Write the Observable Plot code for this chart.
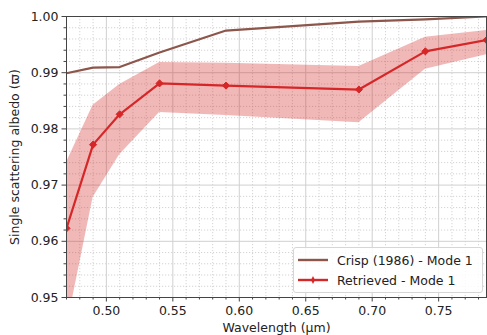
<!DOCTYPE html>
<html>
<head>
<meta charset="utf-8">
<script src="https://cdn.jsdelivr.net/npm/d3@7"></script>
<script src="https://cdn.jsdelivr.net/npm/@observablehq/plot@0.6"></script>
<style>
  body { margin: 0; background: #fff; font-family: "DejaVu Sans", sans-serif; }
  #wrap { position: relative; width: 487px; height: 335px; }
  .legend { position: absolute; left: 293px; top: 247px; width: 190px; height: 46px;
    border: 1px solid #d6d6d6; border-radius: 3px; background: rgba(255,255,255,0.85);
    font-size: 12.5px; color: #222; box-sizing: border-box; }
  .row { position: absolute; left: 4px; height: 18px; display: flex; align-items: center; }
  .row svg { margin-right: 9px; }
</style>
</head>
<body>
<div id="wrap"></div>
<script>
const wavelength = [0.47, 0.49, 0.51, 0.54, 0.59, 0.69, 0.74, 0.786];
const crisp =      [0.9899, 0.9909, 0.9910, 0.9936, 0.9975, 0.9991, 0.9995, 1.0000];
const retrieved =  [0.9623, 0.9772, 0.9826, 0.9881, 0.9877, 0.9870, 0.9938, 0.9958];
const upper =      [0.9740, 0.9842, 0.9879, 0.9918, 0.9917, 0.9911, 0.9963, 0.9975];
const lower =      [0.9445, 0.9678, 0.9754, 0.9829, 0.9824, 0.9811, 0.9906, 0.9932];
const xTicks = [0.50, 0.55, 0.60, 0.65, 0.70, 0.75];
const yTicks = [0.95, 0.96, 0.97, 0.98, 0.99, 1.00];
const xDomain = [0.47, 0.786];
const yDomain = [0.95, 1.00];

const data = wavelength.map((w, i) => ({w, crisp: crisp[i], ret: retrieved[i], lo: lower[i], hi: upper[i]}));
const xMinor = d3.range(0.47, 0.7861, 0.01).map(v => +v.toFixed(3)).filter(v => !xTicks.some(t => Math.abs(t - v) < 1e-6));
const yMinor = d3.range(0.95, 1.0001, 0.002).map(v => +v.toFixed(4)).filter(v => !yTicks.some(t => Math.abs(t - v) < 1e-6));

const red = "#d62728", brown = "#8c564b";
const FS = 12.5;

const chart = Plot.plot({
  width: 487, height: 335,
  marginLeft: 66, marginRight: 1, marginTop: 16, marginBottom: 38,
  style: {fontFamily: "DejaVu Sans, sans-serif", fontSize: "12.5px", color: "#222", background: "#fff"},
  x: {domain: xDomain},
  y: {domain: yDomain},
  marks: [
    Plot.ruleX(xMinor, {stroke: "#c8c8c8", strokeDasharray: "1.2,1.8", strokeWidth: 0.8}),
    Plot.ruleY(yMinor, {stroke: "#c8c8c8", strokeDasharray: "1.2,1.8", strokeWidth: 0.8}),
    Plot.ruleX(xTicks, {stroke: "#d0d0d0", strokeWidth: 1}),
    Plot.ruleY(yTicks, {stroke: "#d0d0d0", strokeWidth: 1}),
    Plot.areaY(data, {x: "w", y1: "lo", y2: "hi", fill: red, fillOpacity: 0.33, clip: true}),
    Plot.line(data, {x: "w", y: "crisp", stroke: brown, strokeWidth: 2.2, clip: true}),
    Plot.line(data, {x: "w", y: "ret", stroke: red, strokeWidth: 2.2, clip: true}),
    Plot.dot(data, {x: "w", y: "ret", symbol: "diamond2", r: 3.2, fill: red, stroke: red, strokeWidth: 1, clip: true}),
    Plot.frame({stroke: "#444", strokeWidth: 1}),
    Plot.axisX(xMinor, {tickSize: 2.5, text: null, stroke: "#444", label: null}),
    Plot.axisY(yMinor, {tickSize: 2.5, text: null, stroke: "#444", label: null}),
    Plot.axisX(xTicks, {tickSize: 4.5, tickPadding: 4, tickFormat: d3.format(".2f"), stroke: "#444", fill: "#222", fontSize: FS,
      label: "Wavelength (μm)", labelAnchor: "center", labelArrow: "none", labelOffset: 34}),
    Plot.axisY(yTicks, {tickSize: 4.5, tickPadding: 3.5, tickFormat: d3.format(".2f"), stroke: "#444", fill: "#222", fontSize: FS,
      label: "Single scattering albedo (ϖ)", labelAnchor: "center", labelArrow: "none", labelOffset: 56})
  ]
});
const wrap = document.getElementById("wrap");
wrap.appendChild(chart);

const legend = document.createElement("div");
legend.className = "legend";
legend.innerHTML = `
  <div class="row" style="top:3px"><svg width="30" height="10"><line x1="0" y1="5" x2="30" y2="5" stroke="${brown}" stroke-width="2.4"/></svg><span>Crisp (1986) - Mode 1</span></div>
  <div class="row" style="top:23px"><svg width="30" height="10"><line x1="0" y1="5" x2="30" y2="5" stroke="${red}" stroke-width="2.4"/><path d="M15,1 L17,5 L15,9 L13,5 Z" fill="${red}"/></svg><span>Retrieved - Mode 1</span></div>`;
wrap.appendChild(legend);
</script>
</body>
</html>
